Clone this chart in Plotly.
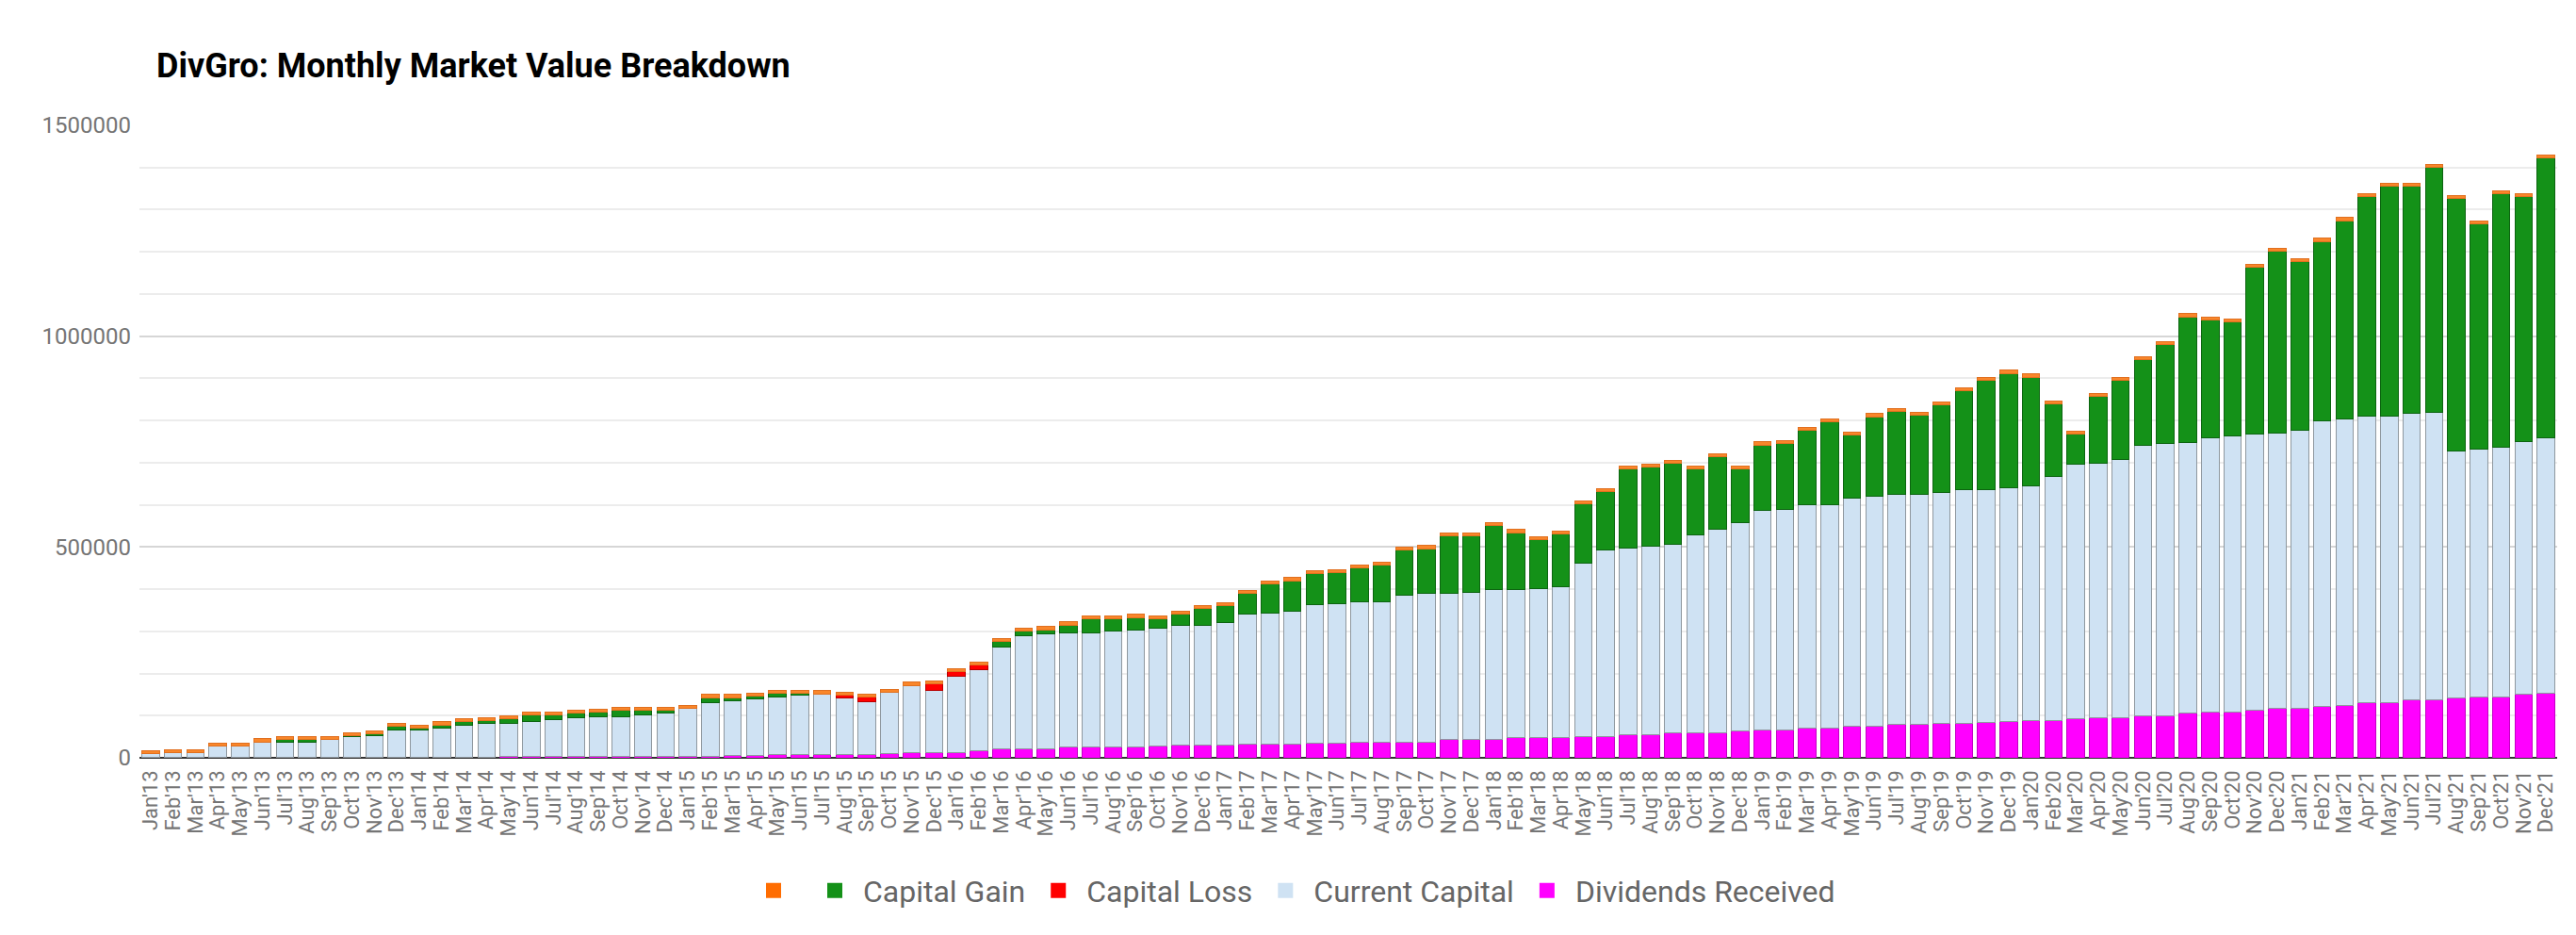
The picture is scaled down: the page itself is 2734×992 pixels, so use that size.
import plotly.graph_objects as go

# Month labels Jan'13 .. Dec'21
months = ["Jan", "Feb", "Mar", "Apr", "May", "Jun", "Jul", "Aug", "Sep", "Oct", "Nov", "Dec"]
years = ["13", "14", "15", "16", "17", "18", "19", "20", "21"]
categories = [f"{m}'{y}" for y in years for m in months]

# Values in thousands
dividends_k = [
    0.3, 0.3, 0.4, 0.5, 0.5, 0.6, 0.7, 0.8, 0.9, 1.0, 1.1, 1.2,
    1.3, 1.4, 1.5, 1.6, 2.5, 2.5, 2.5, 3, 3, 3, 3.5, 3.5,
    4, 4, 6, 6, 7, 7, 8, 8, 8, 9, 12, 12,
    13, 16, 21, 21, 21, 26, 26, 26, 26, 27, 30, 30,
    30, 33, 33, 33, 35, 35, 36, 38, 38, 38, 43, 43,
    43, 47, 47, 47, 51, 51, 55, 55, 59, 59, 59, 63,
    67, 67, 71, 71, 75, 75, 79, 79, 82, 82, 84, 85,
    88, 88, 93, 96, 96, 100, 100, 106, 109, 109, 114, 117,
    117, 122, 125, 130, 130, 138, 138, 142, 145, 145, 150, 153,
]
current_capital_k = [
    9.7, 12.7, 12.6, 26.5, 26.5, 37.4, 37.3, 37.2, 42.1, 49, 51.9, 65.8,
    65.7, 69.6, 76.5, 80.4, 79.5, 84.5, 87.5, 91, 95, 95, 98.5, 103.5,
    113, 127, 129, 133, 137, 141, 144, 133, 125, 147, 160, 147,
    180, 193, 242, 268, 272, 270, 270, 274, 278, 280, 283, 283,
    290, 308, 311, 315, 329, 330, 333, 331, 347, 351, 346, 350,
    355, 351, 355, 359, 410, 442, 442, 447, 447, 470, 482, 494,
    519, 521, 529, 529, 541, 546, 546, 546, 547, 554, 552, 556,
    558, 579, 603, 602, 612, 640, 645, 642, 651, 654, 654, 654,
    659, 677, 679, 680, 680, 679, 682, 585, 587, 592, 600, 605,
]
capital_loss_k = [
    0, 0, 0, 0, 0, 0, 0, 0, 0, 0, 0, 0,
    0, 0, 0, 0, 0, 0, 0, 0, 0, 0, 0, 0,
    0, 0, 0, 0, 0, 0, 0, 7, 11, 0, 0, 17,
    11, 11, 0, 0, 0, 0, 0, 0, 0, 0, 0, 0,
    0, 0, 0, 0, 0, 0, 0, 0, 0, 0, 0, 0,
    0, 0, 0, 0, 0, 0, 0, 0, 0, 0, 0, 0,
    0, 0, 0, 0, 0, 0, 0, 0, 0, 0, 0, 0,
    0, 0, 0, 0, 0, 0, 0, 0, 0, 0, 0, 0,
    0, 0, 0, 0, 0, 0, 0, 0, 0, 0, 0, 0,
]
capital_gain_k = [
    0, 0, 0, 0, 0, 0, 5, 5, 0, 3, 3, 7,
    4, 7, 7, 7, 11, 15, 12, 13, 11, 15, 11, 6,
    0, 12, 8, 8, 9, 5, 0, 0, 0, 0, 0, 0,
    0, 0, 13, 11, 11, 19, 34, 30, 29, 23, 28, 41,
    41, 48, 69, 72, 72, 74, 82, 88, 107, 107, 138, 134,
    153, 136, 116, 124, 141, 138, 189, 188, 192, 157, 174, 129,
    156, 158, 176, 197, 150, 188, 196, 188, 209, 234, 259, 271,
    257, 172, 72, 159, 188, 205, 236, 298, 278, 270, 395, 430,
    400, 426, 470, 521, 545, 538, 580, 600, 535, 600, 581, 665,
]
unnamed_k = [
    7, 7, 7, 7, 7, 7, 7, 7, 7, 7, 7, 7,
    7, 7, 7, 7, 7, 7, 7, 7, 7, 7, 7, 7,
    7, 7, 7, 7, 7, 7, 7, 7, 7, 7, 7, 7,
    7, 7, 7, 7, 7, 7, 7, 7, 7, 7, 7, 7,
    7, 7, 7, 7, 7, 7, 7, 7, 7, 7, 7, 7,
    7, 7, 7, 7, 7, 7, 7, 7, 7, 7, 7, 7,
    7, 7, 7, 7, 7, 7, 7, 7, 7, 7, 7, 7,
    7, 7, 7, 7, 7, 7, 7, 7, 7, 7, 7, 7,
    7, 7, 7, 7, 7, 7, 7, 7, 7, 7, 7, 7,
]

def full(vals):
    return [v * 1000 for v in vals]

# stacking order, bottom to top: (name, values, bar colour, edge colour, legend colour)
series = [
    ("Dividends Received", dividends_k, "#ff00ff", "#c300c3", "#ff00ff"),
    ("Current Capital", current_capital_k, "#cfe2f3", "#8f989f", "#cfe2f3"),
    ("Capital Loss", capital_loss_k, "#ff0000", "#b80000", "#ff0000"),
    ("Capital Gain", capital_gain_k, "#149118", "#0c6410", "#149118"),
    ("", unnamed_k, "#f9862a", "#e07020", "#ff6d01"),
]

fig = go.Figure()
for name, vals, color, edge, lcolor in series:
    fig.add_trace(go.Bar(
        x=categories, y=full(vals), name=name,
        marker=dict(color=color, line=dict(color=edge, width=1)),
        showlegend=False,
    ))

# legend entries (square swatches), in the legend's order
for name, vals, color, edge, lcolor in reversed(series):
    fig.add_trace(go.Scatter(
        x=[None], y=[None], mode="markers", name=name,
        marker=dict(symbol="square", size=16, color=lcolor,
                    line=dict(color=lcolor, width=0)),
        showlegend=True, hoverinfo="skip",
    ))

fig.update_layout(
    width=2734, height=992,
    margin=dict(l=140, r=28, t=125, b=196),
    barmode="stack", bargap=0.22,
    plot_bgcolor="white", paper_bgcolor="white",
    font=dict(family="Roboto", color="#757575"),
    title=dict(
        text="<b>DivGro: Monthly Market Value Breakdown</b>",
        xref="container", x=158 / 2734, xanchor="left",
        yref="container", y=1 - 61 / 992, yanchor="middle",
        font=dict(family="Roboto", size=36, color="#000000"),
    ),
    legend=dict(
        orientation="h", traceorder="normal", itemsizing="trace",
        itemwidth=50,
        x=(783 - 140) / 2566, xanchor="left",
        y=-(937 - 796) / 671, yanchor="middle",
        font=dict(family="Roboto", size=32, color="#666666"),
    ),
    showlegend=True,
)
fig.update_yaxes(
    range=[0, 1500000], dtick=500000, tickformat="d",
    showgrid=True, gridcolor="#d6d6d6", gridwidth=1.5,
    minor=dict(dtick=100000, showgrid=True, gridcolor="#ececec", gridwidth=1.5),
    zeroline=True, zerolinecolor="#333333", zerolinewidth=2,
    tickfont=dict(size=24, color="#757575"), ticks="",
    ticklabelstandoff=8,
)
fig.update_xaxes(
    type="category", tickangle=-90, showgrid=False, dtick=1,
    tickmode="linear", tick0=0,
    tickfont=dict(size=22, color="#757575"), ticks="",
    ticklabelstandoff=8,
)

fig.write_html("out.html")
